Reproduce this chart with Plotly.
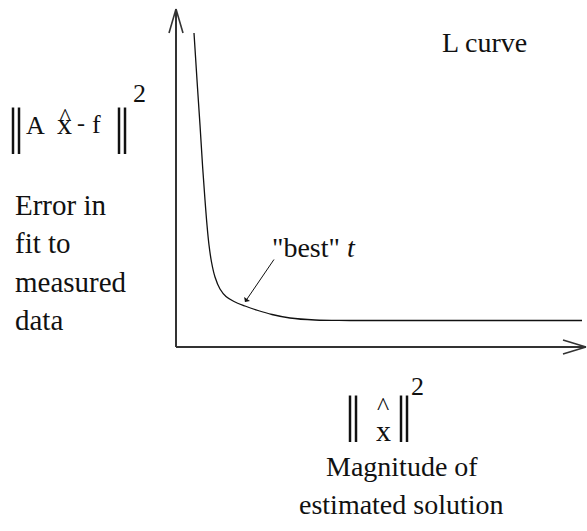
import plotly.graph_objects as go

# L-curve: residual norm versus solution norm (arbitrary units, origin at the axes corner)
solution_norm = [18, 21, 24, 26.5, 29, 31, 33, 35.5, 39, 44, 50, 58, 69, 82, 96, 114, 139, 174, 406]
residual_norm = [314, 267, 222, 182, 147, 122, 102, 85, 70, 58, 50.5, 45.5, 41, 36.5, 32.5, 29, 27, 26.5, 26.5]

# extents of the two drawn axes
x_axis_end = 410
y_axis_end = 338

W, H = 587, 531
X0, Y0 = 176, 347  # pixel position of the origin

SERIF = "Liberation Serif"
INK = "#111111"


def px(x, y):
    """Convert a pixel position in the figure to data coordinates."""
    return x - X0, Y0 - y


fig = go.Figure()

fig.add_trace(go.Scatter(
    x=solution_norm, y=residual_norm, mode="lines",
    line=dict(color=INK, width=1.3, shape="spline", smoothing=1.0),
    hoverinfo="skip", showlegend=False,
))

shapes = []
axis_line = dict(color="#333333", width=2)
# axes
shapes.append(dict(type="line", x0=0, y0=0, x1=0, y1=y_axis_end, line=axis_line))
shapes.append(dict(type="line", x0=0, y0=0, x1=x_axis_end, y1=0, line=axis_line))
# open arrowheads
for dx in (-7, 7):
    shapes.append(dict(type="line", x0=0, y0=y_axis_end, x1=dx, y1=y_axis_end - 24,
                       line=dict(color="#333333", width=1.6)))
for dy in (-7, 7):
    shapes.append(dict(type="line", x0=x_axis_end, y0=0, x1=x_axis_end - 23, y1=dy,
                       line=dict(color="#333333", width=1.6)))

annotations = []


def label(text, x, y, size=28, xanchor="center"):
    ax, ay = px(x, y)
    annotations.append(dict(
        text=text, x=ax, y=ay, xref="x", yref="y", showarrow=False,
        xanchor=xanchor, yanchor="middle",
        font=dict(family=SERIF, size=size, color=INK),
    ))


# vertical axis quantity: ||A x^ - f||^2
label("|", 13, 126, size=50)
label("|", 19, 126, size=50)
label("A", 35.5, 125, size=26)
label("^", 64.5, 117, size=26)
label("x", 64.5, 123, size=30)
label("-", 80.5, 123, size=24)
label("f", 96.5, 124, size=26)
label("|", 119, 126, size=50)
label("|", 125, 126, size=50)
label("2", 139.5, 93, size=26)

label("Error in", 13, 205, size=29, xanchor="left")
label("fit to", 13, 243, size=29, xanchor="left")
label("measured", 13, 282, size=29, xanchor="left")
label("data", 13, 320, size=29, xanchor="left")

label("L curve", 440, 42, xanchor="left")

# horizontal axis quantity: ||x^||^2
label("|", 350, 414, size=50)
label("|", 356, 414, size=50)
label("^", 383, 406, size=26)
label("x", 383.5, 430, size=30)
label("|", 400.5, 414, size=50)
label("|", 406.5, 414, size=50)
label("2", 417.5, 386, size=26)

label("Magnitude of", 402, 466)
label("estimated solution", 401, 504)

# "best" regularisation parameter
label('"best" <i>t</i>', 314, 247)
tip = px(245, 302)
tail = px(275, 258)
annotations.append(dict(
    text="", x=tip[0], y=tip[1], ax=tail[0], ay=tail[1],
    xref="x", yref="y", axref="x", ayref="y", showarrow=True,
    arrowhead=1, arrowsize=1.2, arrowwidth=1, arrowcolor=INK,
))

fig.update_layout(
    width=W, height=H,
    margin=dict(l=0, r=0, t=0, b=0),
    paper_bgcolor="white", plot_bgcolor="white",
    font=dict(family=SERIF),
    xaxis=dict(range=[-X0, W - X0], visible=False, fixedrange=True),
    yaxis=dict(range=[Y0 - H, Y0], visible=False, fixedrange=True),
    shapes=shapes, annotations=annotations, showlegend=False,
)

fig.write_html("out.html")
